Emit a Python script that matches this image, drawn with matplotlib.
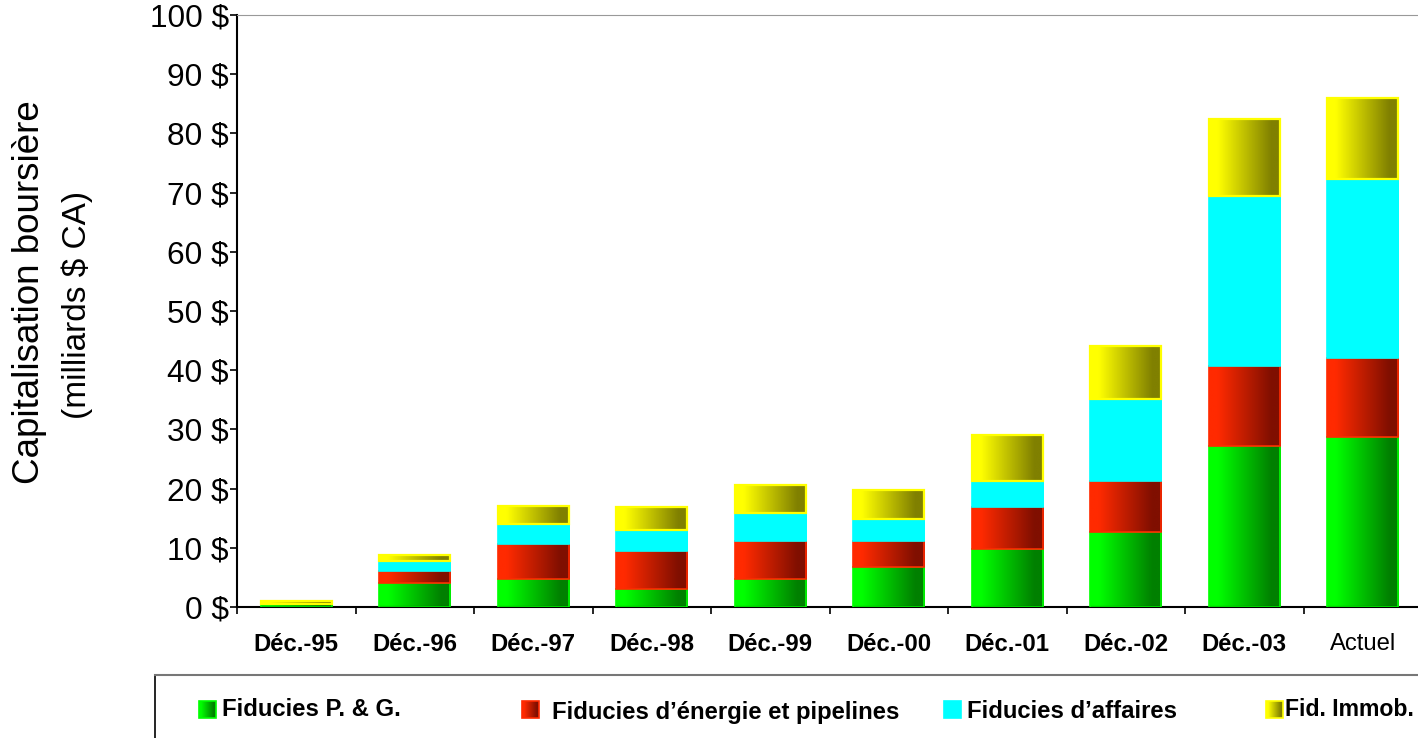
import numpy as np
import matplotlib.pyplot as plt
from matplotlib.colors import LinearSegmentedColormap

plt.rcParams['font.family'] = ['Liberation Sans', 'DejaVu Sans']

# Capitalisation boursière par catégorie de fiducies (milliards $ CA)
periodes = ['Déc.-95', 'Déc.-96', 'Déc.-97', 'Déc.-98', 'Déc.-99',
            'Déc.-00', 'Déc.-01', 'Déc.-02', 'Déc.-03', 'Actuel']
petrole_gaz = [0.5, 4.0, 4.7, 3.0, 4.7, 6.8, 9.8, 12.7, 27.2, 28.7]
energie_pipelines = [0.05, 2.1, 5.9, 6.5, 6.4, 4.3, 7.1, 8.6, 13.5, 13.4]
affaires = [0.0, 1.6, 3.4, 3.5, 4.8, 3.8, 4.4, 13.8, 28.8, 30.2]
immobilier = [0.45, 1.1, 3.1, 3.9, 4.7, 4.9, 7.8, 9.0, 13.0, 13.6]

series = [
    ('Fiducies P. & G.', petrole_gaz, '#00ff00', '#008000'),
    ('Fiducies d\u2019énergie et pipelines', energie_pipelines, '#ff2a00', '#800f00'),
    ('Fiducies d\u2019affaires', affaires, '#00ffff', '#00ffff'),
    ('Fid. Immob.', immobilier, '#ffff00', '#808000'),
]

W, H = 1418, 738
fig = plt.figure(figsize=(W / 100, H / 100), dpi=100)
ax = fig.add_axes([237 / W, 1 - 607 / H, (1422 - 237) / W, (607 - 15) / H])

# horizontal shading: flat light on the left, fading to dark on the right
t = np.clip((np.linspace(0, 1, 200) - 0.12) / 0.75, 0, 1)
grad = t[np.newaxis, :]


def shade(axis, x0, x1, y0, y1, light, dark, z):
    cmap = LinearSegmentedColormap.from_list('g', [light, dark])
    axis.imshow(grad, cmap=cmap, vmin=0, vmax=1, extent=[x0, x1, y0, y1],
                aspect='auto', interpolation='bilinear', zorder=z)


x = np.arange(len(periodes))
bottom = np.zeros(len(periodes))
width = 0.6
for i, (nom, vals, light, dark) in enumerate(series):
    vals = np.array(vals)
    bars = ax.bar(x, vals, width, bottom=bottom, facecolor='none',
                  edgecolor=light, linewidth=1.6 if light == '#ffff00' else 1.2,
                  zorder=3 + i)
    for b in bars:
        if b.get_height() <= 0:
            continue
        shade(ax, b.get_x(), b.get_x() + b.get_width(), b.get_y(),
              b.get_y() + b.get_height(), light, dark, 2 + i)
    bottom += vals

ax.set_xlim(-0.5, len(periodes) - 0.5)
ax.set_ylim(0, 100)
ax.set_yticks(np.arange(0, 101, 10))
ax.set_yticklabels([f'{v} $' for v in range(0, 101, 10)], fontsize=22.8)
ax.set_xticks(x)
ax.set_xticks(np.arange(-0.5, len(periodes), 1), minor=True)
ax.set_xticklabels(periodes, fontsize=17.2)
for lbl in ax.get_xticklabels()[:-1]:
    lbl.set_fontweight('bold')
ax.tick_params(axis='x', which='major', length=0, pad=19)
ax.tick_params(axis='x', which='minor', length=5, width=1.2, direction='out')
ax.tick_params(axis='y', length=5, width=1.2, direction='out', pad=1)
ax.spines['top'].set_color('#999999')
ax.spines['right'].set_visible(False)
for s in ('left', 'bottom'):
    ax.spines[s].set_linewidth(1.5)

fig.text(30 / W, 1 - 292 / H, 'Capitalisation boursière', rotation=90,
         fontsize=26.5, ha='center', va='center')
fig.text(77 / W, 1 - 305 / H, '(milliards $ CA)', rotation=90,
         fontsize=24, ha='center', va='center')

# legend box along the bottom edge, laid out in pixel units
lg = fig.add_axes([155 / W, 0, (W - 155) / W, 63 / H])
lg.set_xticks([])
lg.set_yticks([])
lg.spines['right'].set_visible(False)
lg.spines['bottom'].set_visible(False)
lg.spines['top'].set_color('#777777')
lg.spines['top'].set_linewidth(1.5)
lg.spines['left'].set_linewidth(1.2)

cles = [(199, 222, 710, 17.2), (522, 552, 712.5, 17.2),
        (944, 967, 711, 17.2), (1266, 1285, 710, 16.6)]
for (nom, vals, light, dark), (kx, tx, ty, fs) in zip(series, cles):
    shade(lg, kx, kx + 17, 718, 701, light, dark, 2)
    lg.add_patch(plt.Rectangle((kx, 701), 17, 17, facecolor='none',
                               edgecolor=light, linewidth=1.2, zorder=3))
    lg.text(tx, ty, nom, fontsize=fs, fontweight='bold', va='center', ha='left')
lg.set_xlim(155, W)
lg.set_ylim(738, 675)

fig.savefig('out.png', dpi=100)
